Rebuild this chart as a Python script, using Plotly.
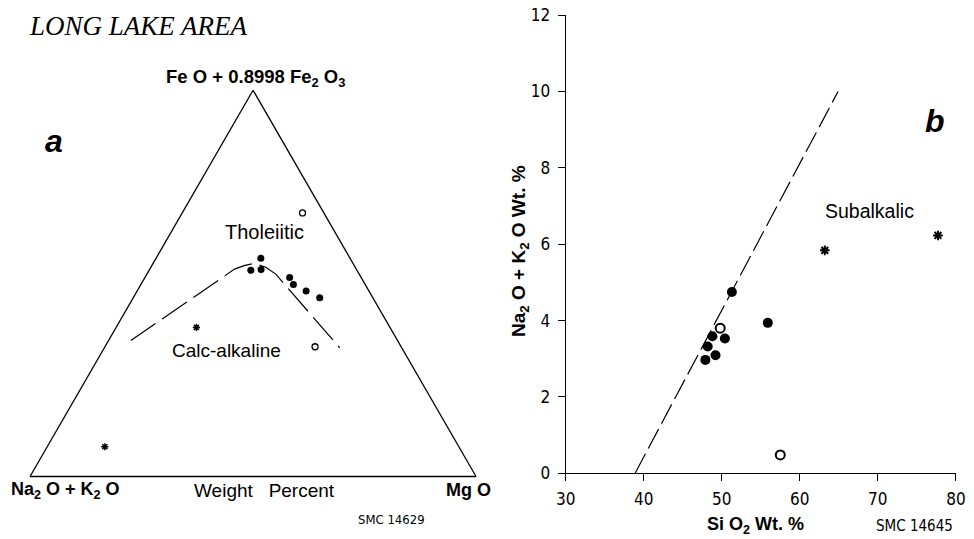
import plotly.graph_objects as go

# ---------------- Panel a: AFM ternary (weight percent) ----------------
afm_filled_feo = [56.5, 53.4, 53.6, 51.5, 49.7, 48.0, 46.3]
afm_filled_alk = [20.0, 23.8, 21.4, 16.0, 16.1, 14.1, 11.9]
afm_filled_mgo = [23.5, 22.8, 25.0, 32.4, 34.2, 37.9, 41.8]

afm_open_feo = [68.3, 33.6]
afm_open_alk = [4.8, 19.3]
afm_open_mgo = [27.0, 47.1]

afm_star_feo = [38.6, 7.7]
afm_star_alk = [43.4, 79.3]
afm_star_mgo = [18.0, 12.9]

boundary_feo = [35.2, 53.7, 54.6, 55.2, 54.3, 52.4, 33.3]
boundary_alk = [59.8, 27.3, 24.7, 22.1, 20.1, 18.7, 13.9]
boundary_mgo = [5.0, 19.0, 20.7, 22.7, 25.8, 28.9, 52.8]

# ---------------- Panel b: SiO2 vs alkalis ----------------
tas_filled_sio2 = [51.3, 55.9, 48.8, 50.4, 48.2, 49.2, 47.9]
tas_filled_alk = [4.75, 3.94, 3.59, 3.53, 3.32, 3.09, 2.97]
tas_open_sio2 = [49.8, 57.5]
tas_open_alk = [3.80, 0.48]
tas_star_sio2 = [63.2, 77.7]
tas_star_alk = [5.84, 6.23]
divider_sio2 = [38.9, 64.9]
divider_alk = [0, 10]

x_ticks = [30, 40, 50, 60, 70, 80]
y_ticks = [0, 2, 4, 6, 8, 10, 12]

W, H = 974, 539
MARGIN = 8  # default page margin around the figure; the page is then fitted to the window
SX, SY = W / (W + 2 * MARGIN), H / (H + 2 * MARGIN)
BOLD = "Arial, 'Liberation Sans', sans-serif"
COND = "'Liberation Sans Narrow', 'DejaVu Sans Condensed', 'Arial Narrow', sans-serif"

def fx(x):
    return x / SX - MARGIN

def fy(y):
    return y / SY - MARGIN

def px(x):
    return fx(x) / W

def py(y):
    return 1 - fy(y) / H

fig = go.Figure()

# ternary traces
fig.add_trace(go.Scatterternary(
    a=boundary_feo, b=boundary_alk, c=boundary_mgo, mode="lines",
    line=dict(color="black", width=1.2, dash="30px,8px"), hoverinfo="skip"))
fig.add_trace(go.Scatterternary(
    a=afm_filled_feo, b=afm_filled_alk, c=afm_filled_mgo, mode="markers",
    marker=dict(symbol="circle", size=7, color="black")))
fig.add_trace(go.Scatterternary(
    a=afm_open_feo, b=afm_open_alk, c=afm_open_mgo, mode="markers",
    marker=dict(symbol="circle", size=6, color="white", line=dict(color="black", width=1.3))))
fig.add_trace(go.Scatterternary(
    a=afm_star_feo, b=afm_star_alk, c=afm_star_mgo, mode="markers",
    marker=dict(symbol="asterisk", size=6, color="black", line=dict(color="black", width=1.5))))

# cartesian traces
fig.add_trace(go.Scatter(
    x=divider_sio2, y=divider_alk, mode="lines",
    line=dict(color="black", width=1.2, dash="22px,6px"), hoverinfo="skip"))
fig.add_trace(go.Scatter(
    x=tas_filled_sio2, y=tas_filled_alk, mode="markers",
    marker=dict(symbol="circle", size=10, color="black")))
fig.add_trace(go.Scatter(
    x=tas_open_sio2, y=tas_open_alk, mode="markers",
    marker=dict(symbol="circle", size=9, color="white", line=dict(color="black", width=2))))
fig.add_trace(go.Scatter(
    x=tas_star_sio2, y=tas_star_alk, mode="markers",
    marker=dict(symbol="asterisk", size=8, color="black", line=dict(color="black", width=2))))

tern_axis = dict(showgrid=False, showticklabels=False, ticks="", showline=True,
                 linecolor="black", linewidth=1.3, title=dict(text=""))

# ternary placement: base at y=475, from x=28 to x=476 (picture pixels)
tri_w = fx(476) - fx(28)
tri_bottom = fy(475)
tri_center = tri_bottom - tri_w * 3 ** 0.5 / 4
tern_y = [1 - (tri_center + 215) / H, 1 - (tri_center - 215) / H]

fig.update_layout(
    width=W, height=H,
    margin=dict(l=0, r=0, t=0, b=0),
    paper_bgcolor="white", plot_bgcolor="white",
    showlegend=False,
    ternary=dict(
        sum=100,
        domain=dict(x=[px(28), px(476)], y=tern_y),
        bgcolor="white",
        aaxis=tern_axis, baxis=tern_axis, caxis=tern_axis,
    ),
    xaxis=dict(
        domain=[px(566), px(958)], range=[30, 80], tickvals=x_ticks,
        showgrid=False, zeroline=False, showline=True, linecolor="black", linewidth=1.2,
        ticks="outside", ticklen=7, tickwidth=1, tickcolor="black",
        tickfont=dict(family=COND, size=17, color="black"), ticklabelstandoff=3,
        ticklabeloverflow="allow",
    ),
    yaxis=dict(
        domain=[py(475), py(13)], range=[0, 12], tickvals=y_ticks,
        showgrid=False, zeroline=False, showline=True, linecolor="black", linewidth=1.2,
        ticks="outside", ticklen=7, tickwidth=1, tickcolor="black",
        tickfont=dict(family=COND, size=17, color="black"), ticklabelstandoff=4,
        ticklabeloverflow="allow",
    ),
)

def note(text, x, y, size, family=BOLD, xanchor="center", angle=0, yanchor="middle"):
    fig.add_annotation(text=text, x=px(x), y=py(y), xref="paper", yref="paper",
                       showarrow=False, xanchor=xanchor, yanchor=yanchor, textangle=angle,
                       font=dict(family=family, size=size, color="black"))

fig.add_annotation(text="<i>LONG LAKE AREA</i>", x=px(26), y=1, xref="paper", yref="paper",
                   showarrow=False, xanchor="left", yanchor="top", borderpad=0,
                   font=dict(family="'Liberation Serif', 'DejaVu Serif', serif", size=27, color="black"))
note("<b>Fe O + 0.8998 Fe<sub>2</sub> O<sub>3</sub></b>", 254, 76, 18.5)
note("<b><i>a</i></b>", 52, 140, 32)
note("Tholeiitic", 264, 232, 20)
note("Calc-alkaline", 225, 351, 19)
note("<b>Na<sub>2</sub> O + K<sub>2</sub> O</b>", 64, 492, 18)
note("Weight&nbsp;&nbsp; Percent", 264, 492, 19)
note("<b>Mg O</b>", 468, 492, 18)
note("SMC 14629", 391, 522, 13, family=COND)

note("<b><i>b</i></b>", 937, 120, 32)
note("Subalkalic", 871, 211, 19.5)
note("<b>Na<sub>2</sub> O + K<sub>2</sub> O Wt. %</b>", 520, 251, 19, angle=-90)
note("<b>Si O<sub>2</sub> Wt. %</b>", 757, 528, 18)
note("SMC 14645", 916, 528, 15, family=COND)

fig.write_html("out.html")
